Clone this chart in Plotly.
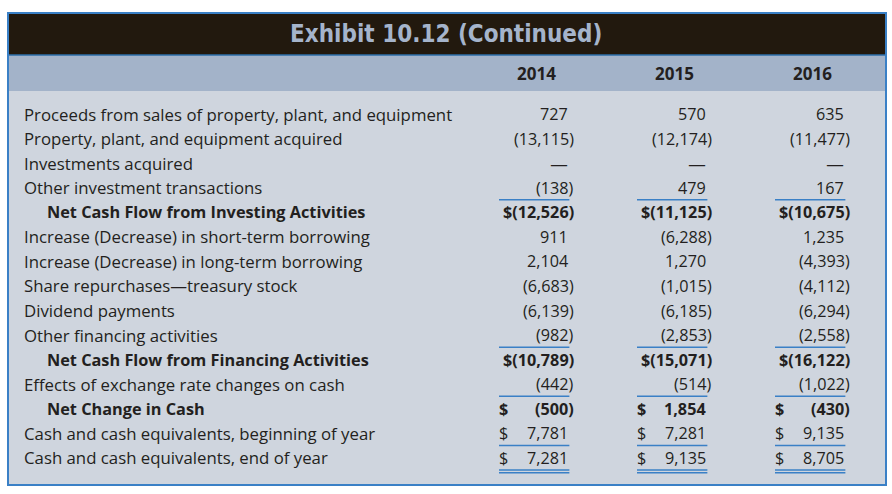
import plotly.graph_objects as go

title = "Exhibit 10.12 (Continued)"
years = ["2014", "2015", "2016"]

labels = [
    "Proceeds from sales of property, plant, and equipment",
    "Property, plant, and equipment acquired",
    "Investments acquired",
    "Other investment transactions",
    "Net Cash Flow from Investing Activities",
    "Increase (Decrease) in short-term borrowing",
    "Increase (Decrease) in long-term borrowing",
    "Share repurchases\u2014treasury stock",
    "Dividend payments",
    "Other financing activities",
    "Net Cash Flow from Financing Activities",
    "Effects of exchange rate changes on cash",
    "Net Change in Cash",
    "Cash and cash equivalents, beginning of year",
    "Cash and cash equivalents, end of year",
]

# None = no amount (shown as a dash)
values_2014 = [727, -13115, None, -138, -12526, 911, 2104, -6683, -6139, -982, -10789, -442, -500, 7781, 7281]
values_2015 = [570, -12174, None, 479, -11125, -6288, 1270, -1015, -6185, -2853, -15071, -514, 1854, 7281, 9135]
values_2016 = [635, -11477, None, 167, -10675, 1235, -4393, -4112, -6294, -2558, -16122, -1022, -430, 9135, 8705]

total_rows = [4, 10, 12]          # bold, indented
dollar_attached = [4, 10]         # "$(12,526)"
dollar_separate = [12, 13, 14]    # "$    7,781"
single_underline = [3, 9, 11, 13]
double_underline = [14]

W, H = 892, 494
TEXT = "#231f20"
BLUE = "#3a80c6"
FONT = "Open Sans"


def fmt(v):
    if v is None:
        return "\u2014"
    if v < 0:
        return "(" + f"{-v:,}" + ")"
    return f"{v:,}"


def px(x):
    return x / W


def py(y):
    return 1 - y / H


fig = go.Figure()

# backgrounds of the exhibit box
shapes = [
    dict(type="rect", xref="paper", yref="paper", x0=px(8), x1=px(886), y0=py(91), y1=py(485),
         fillcolor="#cfd5de", line=dict(width=0), layer="below"),
    dict(type="rect", xref="paper", yref="paper", x0=px(8), x1=px(886), y0=py(55), y1=py(91),
         fillcolor="#a3b3c9", line=dict(width=0), layer="below"),
    dict(type="rect", xref="paper", yref="paper", x0=px(8), x1=px(886), y0=py(13), y1=py(55),
         fillcolor="#22190e", line=dict(width=0), layer="below"),
    dict(type="line", xref="paper", yref="paper", x0=px(8), x1=px(886), y0=py(55), y1=py(55),
         line=dict(color="#2c6ea8", width=1.5)),
    dict(type="rect", xref="paper", yref="paper", x0=px(8), x1=px(886), y0=py(13), y1=py(485),
         line=dict(color=BLUE, width=2)),
]

annotations = [
    dict(text="<b>" + title + "</b>", xref="paper", yref="paper", x=0.5, y=py(34),
         xanchor="center", yanchor="middle", showarrow=False,
         font=dict(family="DejaVu Sans Condensed", size=24, color="#a5b4cb"))
]

# column headers
for c, yr in enumerate(years):
    annotations.append(dict(text="<b>" + yr + "</b>", x=c - 0.23, y=-1.63, xref="x", yref="y",
                            showarrow=False, font=dict(family=FONT, size=17, color=TEXT)))

# row labels
for r, lab in enumerate(labels):
    bold = r in total_rows
    annotations.append(dict(text="<b>" + lab + "</b>" if bold else lab,
                            x=px(45 if bold else 22), y=r, xref="paper", yref="y",
                            xanchor="left", showarrow=False,
                            font=dict(family=FONT, size=16.3 if bold else 16.8, color=TEXT)))

# amounts
for c, vals in enumerate([values_2014, values_2015, values_2016]):
    for r, v in enumerate(vals):
        bold = r in total_rows
        txt = fmt(v)
        if r in dollar_attached:
            txt = "$" + txt
        if bold:
            txt = "<b>" + txt + "</b>"
        shift = 8 if (v is not None and v < 0) else 2
        fnt = dict(family=FONT, size=16.2, color=TEXT)
        if v is None:
            fnt = dict(family="DejaVu Sans", size=18, color=TEXT)
        annotations.append(dict(text=txt, x=c, y=r, xref="x", yref="y", xanchor="right",
                                xshift=shift, showarrow=False, font=fnt))
        if r in dollar_separate:
            annotations.append(dict(text="<b>$</b>" if bold else "$", x=c - 0.5, y=r,
                                    xref="x", yref="y", xanchor="left", xshift=-2,
                                    showarrow=False,
                                    font=dict(family=FONT, size=16.2, color=TEXT)))
        if r in single_underline or r in double_underline:
            shapes.append(dict(type="line", xref="x", yref="y", x0=c - 0.5, x1=c + 0.01,
                               y0=r + 0.49, y1=r + 0.49, line=dict(color=BLUE, width=1.5)))
        if r in double_underline:
            shapes.append(dict(type="line", xref="x", yref="y", x0=c - 0.5, x1=c + 0.01,
                               y0=r + 0.6, y1=r + 0.6, line=dict(color=BLUE, width=1.5)))

fig.update_layout(
    width=W, height=H,
    margin=dict(l=0, r=0, t=0, b=0),
    paper_bgcolor="white", plot_bgcolor="rgba(0,0,0,0)",
    showlegend=False,
    shapes=shapes, annotations=annotations,
)
# 1 column = 138 px, column right edges at 568 / 706 / 844 px; rows every 24.57 px from 114 px
fig.update_xaxes(range=[-568 / 138, (W - 568) / 138], visible=False, fixedrange=True)
fig.update_yaxes(range=[(H - 114) / 24.57, -114 / 24.57], visible=False, fixedrange=True)

# page has a default 8px body margin, drop it so the figure sits at 0,0
fig.write_html("out.html", config={"displayModeBar": False},
               post_script="document.body.style.margin = '0';")
